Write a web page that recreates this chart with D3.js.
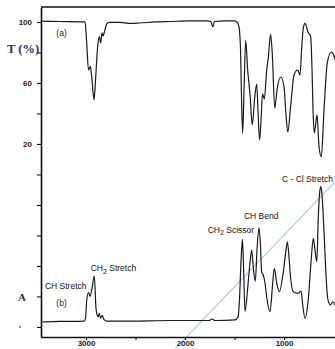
<!DOCTYPE html>
<html>
<head>
<meta charset="utf-8">
<script src="https://cdn.jsdelivr.net/npm/d3@7"></script>
<style>
  body { margin: 0; background: #fff; }
  svg { display: block; }
</style>
</head>
<body>
<svg id="chart"></svg>
<script>
// wavenumber (cm-1) and transmittance (%) for trace (a)
const wnA = [3455, 3263, 3020, 3010, 2995, 2975, 2955, 2942, 2929, 2919, 2904, 2889, 2879, 2866, 2852, 2838, 2828, 2811, 2791, 2768,
  2657, 2556, 2455, 2303, 2152, 1950, 1768, 1737, 1720, 1702, 1596, 1505, 1475, 1455, 1439, 1429, 1418, 1404, 1387, 1367,
  1343, 1321, 1298, 1276, 1263, 1247, 1232, 1217, 1199, 1175, 1158, 1136, 1118, 1094, 1068, 1033, 1000, 980, 962, 932,
  899, 862, 838, 821, 805, 788, 758, 731, 717, 707, 694, 667, 646, 623, 596, 563, 523, 502, 485]
const transA = [100.5, 100.3, 100, 99.7, 88.2, 68.5, 70.8, 63.3, 54.1, 48.9, 62, 78.4, 86.2, 90.4, 86.2, 92.8, 90.8, 94.3, 98.7, 99.7,
  99.7, 99, 99.3, 100, 100.3, 100.7, 100.7, 100, 96.9, 100.3, 100.7, 100.7, 100, 96.7, 81.6, 48.9, 27.2, 55.4, 87.9, 68.5,
  52.1, 32.5, 48.9, 59.3, 42.3, 22.6, 35.7, 52.8, 49.5, 68.5, 77, 91.8, 78.4, 43.6, 56.7, 63.9, 57.4, 39, 27.9, 45.6,
  65.2, 68.5, 65.2, 83.8, 96.1, 99, 93.4, 90.5, 68.5, 42.3, 27.2, 39, 18, 11.5, 42.3, 73.1, 80.3, 79, 75.1]

// wavenumber (cm-1) and absorbance for trace (b)
const wnB = [3455, 3263, 3020, 3005, 2993, 2975, 2960, 2939, 2916, 2899, 2879, 2866, 2852, 2836, 2818, 2788, 2556, 2152, 1758, 1727,
  1697, 1495, 1465, 1450, 1434, 1420, 1408, 1394, 1367, 1343, 1327, 1310, 1290, 1273, 1253, 1238, 1226, 1210, 1192, 1175,
  1141, 1116, 1098, 1074, 1047, 1007, 980, 966, 949, 936, 906, 855, 828, 811, 788, 754, 727, 704, 687, 669,
  653, 639, 629, 616, 596, 576, 559, 529, 509, 485]
const absB = [0, 0.004, 0.007, 0.029, 0.162, 0.217, 0.188, 0.25, 0.338, 0.096, 0.037, 0.063, 0.029, 0.048, 0.018, 0.007, 0.007, 0.011, 0.011, 0.022,
  0.011, 0.015, 0.037, 0.162, 0.456, 0.607, 0.382, 0.077, 0.25, 0.441, 0.529, 0.397, 0.301, 0.529, 0.693, 0.566, 0.368, 0.346, 0.287, 0.184,
  0.076, 0.272, 0.395, 0.287, 0.223, 0.37, 0.529, 0.59, 0.471, 0.346, 0.223, 0.211, 0.228, 0.125, 0.027, 0.174, 0.443, 0.615, 0.529, 0.443,
  0.787, 0.956, 0.995, 0.934, 0.664, 0.346, 0.174, 0.125, 0.149, 0.125]

const xTicks = [3000, 2500, 2000, 1500, 1000]
const xTickLabels = ["3000", "2000", "1000"]
const yTicks = [100, 80, 60, 40, 20, 0, -20, -40, -60, -80, -100]
const yTickLabels = ["100", "60", "20"]

// peak annotations on trace (b): text ("|" marks a subscript 2), wavenumber, absorbance
const bandNames = ["CH Stretch", "CH|Stretch", "CH|Scissor", "CH Bend", "C - Cl Stretch"]
const bandWn = [3415, 2953, 1771, 1405, 1021]
const bandAbs = [0.24, 0.375, 0.658, 0.761, 1.026]

const width = 335
const height = 349
const margins = { top: 7, right: 0, bottom: 12, left: 41 }

const svg = d3.select("#chart")
  .attr("width", width)
  .attr("height", height)

const x = d3.scaleLinear()
  .domain([3455, 485])
  .range([margins.left, width - margins.right])

const yT = d3.scaleLinear()
  .domain([-106.6, 109.8])
  .range([height - margins.bottom, margins.top])

const yA = d3.scaleLinear()
  .domain([0, 1])
  .range([322, 186])

//* scan artefact: faint blue line across the lower right
svg.append("line")
  .attr("x1", x(2101)).attr("y1", yT(-114.4))
  .attr("x2", x(485)).attr("y2", yT(-4.9))
  .attr("stroke", "#a9d0ec")
  .attr("stroke-width", 1.2)

//* axes
const xAxis = svg.append("g")
  .attr("transform", `translate(0, ${height - margins.bottom})`)
  .call(d3.axisBottom(x)
    .tickValues(xTicks)
    .tickSize(3)
    .tickSizeOuter(0)
    .tickFormat(d => xTickLabels.includes(String(d)) ? String(d) : ""))

const yAxis = svg.append("g")
  .attr("transform", `translate(${margins.left}, 0)`)
  .call(d3.axisLeft(yT)
    .tickValues(yTicks)
    .tickSize(4)
    .tickSizeOuter(0)
    .tickFormat(d => yTickLabels.includes(String(d)) ? String(d) : ""))

svg.selectAll(".domain").attr("stroke", "#111").attr("stroke-width", 1.6)
svg.selectAll(".tick line").attr("stroke", "#111").attr("stroke-width", 1.1)
svg.selectAll(".tick text")
  .attr("fill", "#222")
  .style("font-family", "'Liberation Sans', Arial, sans-serif")
  .style("font-size", "8px")
  .style("font-weight", "bold")
xAxis.selectAll(".tick text").attr("dy", "0.55em").attr("y", 5)
yAxis.selectAll(".tick text").attr("x", -9)

// top frame line
svg.append("line")
  .attr("x1", margins.left).attr("x2", width)
  .attr("y1", margins.top).attr("y2", margins.top)
  .attr("stroke", "#111")
  .attr("stroke-width", 1.6)

//* spectra
const lineA = d3.line()
  .x((d, i) => x(wnA[i]))
  .y(d => yT(d))
  .curve(d3.curveMonotoneX)

const lineB = d3.line()
  .x((d, i) => x(wnB[i]))
  .y(d => yA(d))
  .curve(d3.curveMonotoneX)

svg.append("path")
  .datum(transA)
  .attr("d", lineA)
  .attr("fill", "none")
  .attr("stroke", "#1a1a1a")
  .attr("stroke-width", 1.2)

svg.append("path")
  .datum(absB)
  .attr("d", lineB)
  .attr("fill", "none")
  .attr("stroke", "#1a1a1a")
  .attr("stroke-width", 1.2)

//* labels
const sans = "'Liberation Sans', Arial, sans-serif"
const serif = "'Liberation Serif', 'Times New Roman', serif"

svg.append("text")
  .attr("x", x(3300)).attr("y", yT(91.1))
  .attr("font-family", sans).attr("font-size", 8.5).attr("fill", "#222")
  .text("(a)")

svg.append("text")
  .attr("x", x(3300)).attr("y", yA(0.118))
  .attr("font-family", sans).attr("font-size", 8.5).attr("fill", "#222")
  .text("(b)")

svg.append("text")
  .attr("x", 7).attr("y", yT(79.7))
  .attr("font-family", serif).attr("font-size", 12.5).attr("font-weight", "bold")
  .attr("fill", "#1d2d68")
  .text("T (%)")

svg.append("text")
  .attr("x", 18).attr("y", yT(-83))
  .attr("font-family", serif).attr("font-size", 11).attr("font-weight", "bold")
  .attr("fill", "#1d2d68")
  .text("A")

svg.append("circle")
  .attr("cx", 20).attr("cy", yT(-100))
  .attr("r", 0.9)
  .attr("fill", "#444")

bandNames.forEach((name, i) => {
  const t = svg.append("text")
    .attr("x", x(bandWn[i])).attr("y", yA(bandAbs[i]))
    .attr("font-family", sans).attr("font-size", 8.5).attr("fill", "#111")
  const parts = name.split("|")
  if (parts.length === 2) {
    t.append("tspan").text(parts[0])
    t.append("tspan").attr("dy", 2.5).attr("font-size", 7).text("2")
    t.append("tspan").attr("dy", -2.5).text(" " + parts[1])
  } else {
    t.text(name)
  }
})
</script>
</body>
</html>
